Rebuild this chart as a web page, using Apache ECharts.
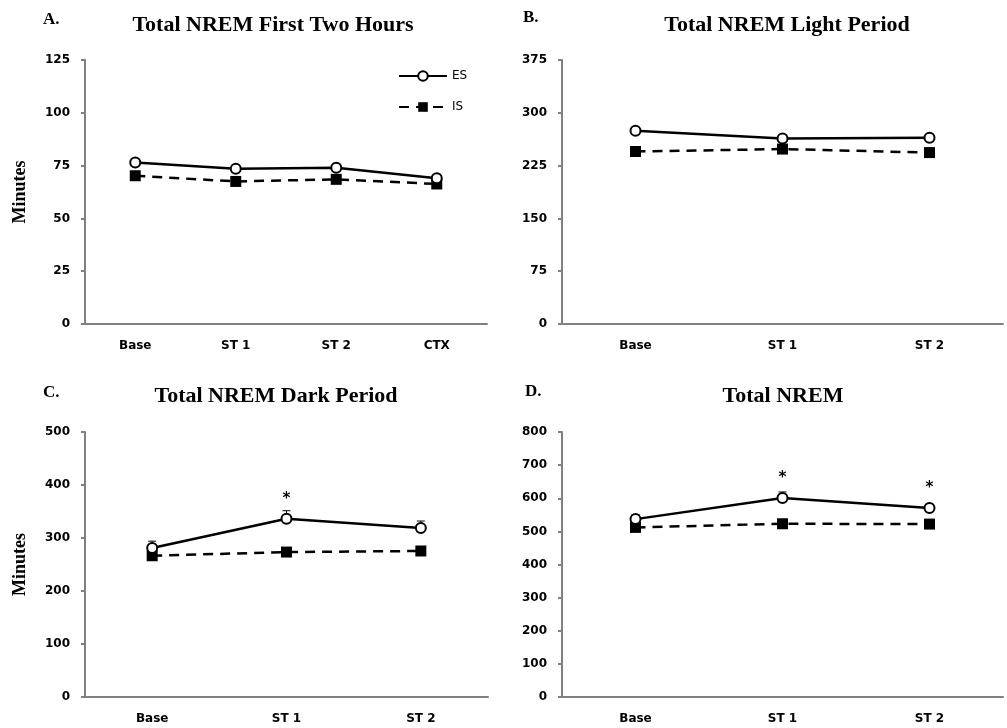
<!DOCTYPE html>
<html>
<head>
<meta charset="utf-8">
<script src="https://cdn.jsdelivr.net/npm/echarts@6/dist/echarts.min.js"></script>
<style>
  html, body { margin: 0; padding: 0; background: #fff; }
  #main { width: 1007px; height: 728px; }
</style>
</head>
<body>
<div id="main"></div>
<script>
// categories
var catsA = ['Base', 'ST 1', 'ST 2', 'CTX'];
var catsBCD = ['Base', 'ST 1', 'ST 2'];

// A. first two hours
var esA = [76.5, 73.5, 74, 69];
var isA = [70.2, 67.5, 68.5, 66.3];
// B. light period
var esB = [274.5, 263.5, 264.5];
var isB = [245, 248.5, 243.5];
// C. dark period
var esC = [281, 336.5, 319];
var isC = [266.5, 273.5, 275.5];
var errC = [13, 15, 13];
var sigC = [false, true, false];
// D. total
var esD = [537, 601, 570.5];
var isD = [512, 523, 522];
var errD = [14, 18, 10];
var sigD = [false, true, true];

// y scales
var yMax = [125, 375, 500, 800];
var yStep = [25, 75, 100, 100];

var chart = echarts.init(document.getElementById('main'));

var axisCol = '#808080';
var labelFont = { fontFamily: 'DejaVu Sans', fontWeight: 'bold', fontSize: 12, color: '#000' };

var grids = [
  { left: 85, top: 60, width: 402, height: 264 },
  { left: 562, top: 60, width: 441, height: 264 },
  { left: 85, top: 432, width: 403, height: 265 },
  { left: 562, top: 432, width: 441, height: 265 }
];
grids.forEach(function(g) { g.outerBoundsMode = 'none'; });

var xAxes = [catsA, catsBCD, catsBCD, catsBCD].map(function(c, i) {
  return {
    type: 'category', gridIndex: i, data: c,
    axisLine: { lineStyle: { color: axisCol, width: 2 } },
    axisTick: { length: 5, lineStyle: { color: axisCol, width: 2 } },
    axisLabel: Object.assign({ margin: 16 }, labelFont)
  };
});

var yAxes = yMax.map(function(m, i) {
  var ax = {
    type: 'value', gridIndex: i, min: 0, max: m, interval: yStep[i],
    splitLine: { show: false },
    axisLine: { show: true, lineStyle: { color: axisCol, width: 2 } },
    axisTick: { show: true, length: 4, lineStyle: { color: axisCol, width: 2 } },
    axisLabel: Object.assign({ margin: 15 }, labelFont)
  };
  if (i == 0 || i == 2) {
    ax.name = 'Minutes';
    ax.nameLocation = 'middle';
    ax.nameGap = 56;
    ax.nameRotate = 90;
    ax.nameTextStyle = { fontFamily: 'Liberation Serif', fontWeight: 'bold', fontSize: 18, color: '#000' };
  }
  return ax;
});

var starLabel = {
  show: true, position: 'top', distance: 6, formatter: '*',
  fontFamily: 'DejaVu Sans', fontWeight: 'bold', fontSize: 15, color: '#000'
};

var withStars = function(vals, sig) {
  return vals.map(function(v, i) {
    return sig && sig[i] ? { value: v, label: starLabel } : v;
  });
};

var esSeries = function(idx, vals, sig) {
  return {
    name: 'ES', type: 'line', xAxisIndex: idx, yAxisIndex: idx, z: 4,
    data: withStars(vals, sig),
    symbol: 'circle', symbolSize: 10, showAllSymbol: true,
    lineStyle: { color: '#000', width: 2.5 },
    itemStyle: { color: '#fff', borderColor: '#000', borderWidth: 2 },
    label: { show: false },
    emphasis: { disabled: true }
  };
};

var isSeries = function(idx, vals) {
  return {
    name: 'IS', type: 'line', xAxisIndex: idx, yAxisIndex: idx, z: 3,
    data: vals,
    symbol: 'rect', symbolSize: 11,
    lineStyle: { color: '#000', width: 2.5, type: [10, 7] },
    itemStyle: { color: '#000' },
    emphasis: { disabled: true }
  };
};

// SEM bars on ES, up only
var errItem = function(params, api) {
  var x = api.value(0), v = api.value(1), e = api.value(2);
  var lo = api.coord([x, v]);
  var hi = api.coord([x, v + e]);
  var w = 4;
  return {
    type: 'group',
    children: [
      { type: 'line', shape: { x1: lo[0], y1: lo[1], x2: hi[0], y2: hi[1] }, style: { stroke: '#000', lineWidth: 1 } },
      { type: 'line', shape: { x1: hi[0] - w, y1: hi[1], x2: hi[0] + w, y2: hi[1] }, style: { stroke: '#000', lineWidth: 1 } }
    ]
  };
};

var errSeries = function(idx, vals, errs) {
  return {
    name: 'SEM', type: 'custom', xAxisIndex: idx, yAxisIndex: idx, z: 1,
    renderItem: errItem,
    encode: { x: 0, y: 1 },
    data: vals.map(function(v, i) { return [i, v, errs[i]]; }),
    silent: true
  };
};

var serifBold = function(size) {
  return 'bold ' + size + 'px "Liberation Serif"';
};
var txt = function(s, x, y, size, align) {
  return {
    type: 'text', x: x, y: y, silent: true,
    style: { text: s, font: serifBold(size), fill: '#000', align: align, verticalAlign: 'middle' }
  };
};

var option = {
  backgroundColor: '#fff',
  animation: false,
  grid: grids,
  xAxis: xAxes,
  yAxis: yAxes,
  legend: {
    data: ['ES', 'IS'],
    orient: 'vertical',
    left: 398, top: 70, padding: 0,
    itemWidth: 48, itemHeight: 12, itemGap: 19,
    textStyle: { fontFamily: 'DejaVu Sans', fontSize: 12, color: '#000' },
    selectedMode: false
  },
  graphic: [
    txt('A.', 43, 20, 17, 'left'),
    txt('Total NREM First Two Hours', 273, 25, 22, 'center'),
    txt('B.', 523, 18, 17, 'left'),
    txt('Total NREM Light Period', 787, 25, 22, 'center'),
    txt('C.', 43, 393, 17, 'left'),
    txt('Total NREM Dark Period', 276, 396, 22, 'center'),
    txt('D.', 525, 392, 17, 'left'),
    txt('Total NREM', 783, 396, 22, 'center')
  ],
  series: [
    esSeries(0, esA), isSeries(0, isA),
    esSeries(1, esB), isSeries(1, isB),
    errSeries(2, esC, errC), esSeries(2, esC, sigC), isSeries(2, isC),
    errSeries(3, esD, errD), esSeries(3, esD, sigD), isSeries(3, isD)
  ]
};

chart.setOption(option);
</script>
</body>
</html>
